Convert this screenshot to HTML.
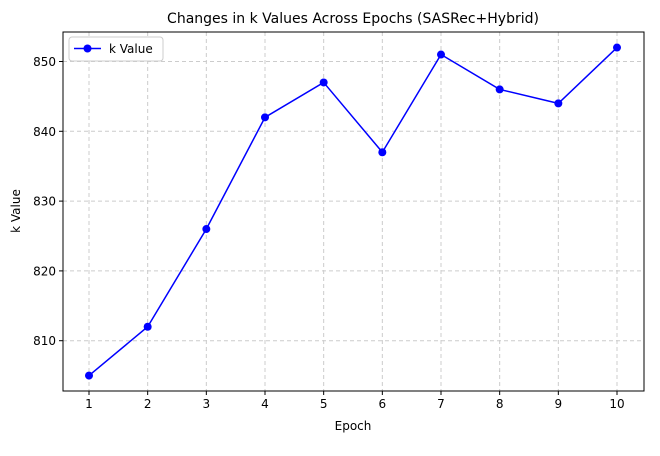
<!DOCTYPE html>
<html><head><meta charset="utf-8"><style>body{margin:0;background:#fff}svg text{font-family:"DejaVu Sans","Liberation Sans",sans-serif;fill:#000}</style></head>
<body>
<svg id="c" width="660" height="451" xmlns="http://www.w3.org/2000/svg">
<text x="353" y="23" font-size="14" text-anchor="middle">Changes in k Values Across Epochs (SASRec+Hybrid)</text>
<g id="grid"></g><g id="axes"></g><g id="series"></g>
<text x="353" y="430" font-size="12" text-anchor="middle">Epoch</text>
<text x="20" y="211" font-size="12" text-anchor="middle" transform="rotate(-90 20 211)">k Value</text>
<g>
<rect x="69" y="37" width="94" height="24" fill="#fff" stroke="#ccc" rx="3"/>
<line x1="74" y1="48.5" x2="101" y2="48.5" stroke="blue" stroke-width="1.5"/>
<circle cx="87.5" cy="48.5" r="4" fill="blue"/>
<text x="109" y="53" font-size="12">k Value</text>
</g>
</svg>
<script>
const epochs=[1,2,3,4,5,6,7,8,9,10];
const kValues=[805,812,826,842,847,837,851,846,844,852];
const yTicks=[810,820,830,840,850];
const L=63,R=644,T=32,B=391;
const x=v=>89+(v-1)*(617-89)/9;
const y=v=>61.5-(v-850)*6.98;
const ns="http://www.w3.org/2000/svg";
function mk(p,t,a){const e=document.createElementNS(ns,t);for(const k in a)e.setAttribute(k,a[k]);document.getElementById(p).appendChild(e);return e;}
epochs.forEach(e=>{
 const g=mk('grid','line',{x1:x(e),x2:x(e),y1:T,y2:B,stroke:'#ccc','stroke-dasharray':'4,3'});
 
 
 const t=mk('axes','line',{x1:x(e),x2:x(e),y1:B,y2:B+4,stroke:'#000'});
 
 
 const l=mk('axes','text',{x:x(e),y:B+17,'font-size':12,'text-anchor':'middle'});l.textContent=e;
 
 
});
yTicks.forEach(v=>{
 const g=mk('grid','line',{x1:L,x2:R,y1:y(v),y2:y(v),stroke:'#ccc','stroke-dasharray':'4,3'});
 
 
 const t=mk('axes','line',{x1:L-4,x2:L,y1:y(v),y2:y(v),stroke:'#000'});
 
 
 const l=mk('axes','text',{x:L-7,y:y(v)+4.5,'font-size':12,'text-anchor':'end'});l.textContent=v;
 
 
});
const fr=mk('axes','rect',{x:L,y:T,width:R-L,height:B-T,fill:'none',stroke:'#000'});


const pl=mk('series','polyline',{points:epochs.map((e,i)=>x(e)+','+y(kValues[i])).join(' '),fill:'none',stroke:'blue','stroke-width':1.5});


epochs.forEach((e,i)=>{
 const c=mk('series','circle',{cx:x(e),cy:y(kValues[i]),r:4,fill:'blue'});
 
 
});
</script>
</body></html>
